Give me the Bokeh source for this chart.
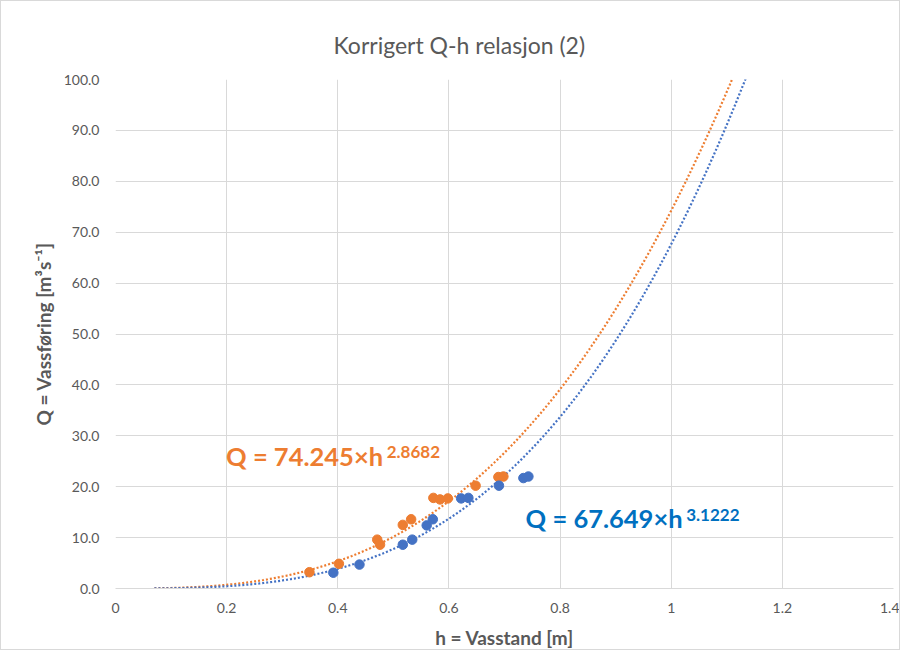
import numpy as np
from bokeh.plotting import figure
from bokeh.models import Range1d, ColumnDataSource, FixedTicker
from bokeh.core.properties import value
from bokeh.embed import file_html
from bokeh.resources import INLINE

# ---- data ----
h_orange = [0.349, 0.402, 0.471, 0.476, 0.517, 0.532, 0.572, 0.584, 0.598, 0.648, 0.689, 0.698]
q_orange = [3.2, 4.85, 9.6, 8.6, 12.5, 13.6, 17.8, 17.5, 17.7, 20.2, 21.9, 22.0]

h_blue = [0.392, 0.439, 0.517, 0.534, 0.560, 0.571, 0.622, 0.635, 0.690, 0.734, 0.743]
q_blue = [3.1, 4.7, 8.6, 9.6, 12.4, 13.6, 17.7, 17.8, 20.2, 21.7, 22.0]

# power-law trendlines shown in the chart: Q = a * h^b
coef_orange, exp_orange = 74.245, 2.8682
coef_blue, exp_blue = 67.649, 3.1222
trend_h_start, trend_h_end = 0.07, 1.2

x_ticks = [0, 0.2, 0.4, 0.6, 0.8, 1.0, 1.2, 1.4]
x_tick_labels = ["0", "0.2", "0.4", "0.6", "0.8", "1", "1.2", "1.4"]
y_ticks = [0, 10, 20, 30, 40, 50, 60, 70, 80, 90, 100]
y_tick_labels = ["0.0", "10.0", "20.0", "30.0", "40.0", "50.0", "60.0", "70.0", "80.0", "90.0", "100.0"]

title_text = "Korrigert Q-h relasjon (2)"
x_label = "h = Vasstand [m]"
y_label = "Q = Vassføring [m³s⁻¹]"

ORANGE = "#ED7D31"
BLUE = "#4472C4"
TXT_BLUE = "#0070C0"
GRID = "#D9D9D9"
LABEL = "#595959"
FONT = "Lato"

p = figure(width=900, height=650, output_backend="svg", toolbar_location=None,
           x_range=Range1d(0, 1.4), y_range=Range1d(0, 100),
           min_border_left=114, min_border_right=8, min_border_top=78, min_border_bottom=63,
           styles={"border": "1px solid #D9D9D9"})

p.title.text = title_text
p.title.align = "left"
p.title.offset = 218
p.title.text_font = FONT
p.title.text_font_size = "23px"
p.title.text_font_style = "normal"
p.title.text_color = LABEL
p.title.standoff = 41

p.outline_line_color = None
p.background_fill_color = "white"
p.border_fill_color = "white"

for g in (p.xgrid, p.ygrid):
    g.grid_line_color = GRID
    g.grid_line_width = 1
p.xgrid.ticker = FixedTicker(ticks=x_ticks)
p.ygrid.ticker = FixedTicker(ticks=y_ticks)

xa = p.xaxis[0]
xa.ticker = FixedTicker(ticks=x_ticks)
xa.major_label_overrides = {t: l for t, l in zip(x_ticks, x_tick_labels)}
xa.axis_line_color = GRID
xa.major_tick_line_color = None
xa.minor_tick_line_color = None
xa.major_label_standoff = 8
xa.major_label_text_font = FONT
xa.major_label_text_font_size = "14px"
xa.major_label_text_color = LABEL
xa.axis_label = x_label
xa.axis_label_text_font = FONT
xa.axis_label_text_font_size = "19px"
xa.axis_label_text_font_style = "bold"
xa.axis_label_text_color = LABEL
xa.axis_label_standoff = 10

ya = p.yaxis[0]
ya.ticker = FixedTicker(ticks=y_ticks)
ya.major_label_overrides = {t: l for t, l in zip(y_ticks, y_tick_labels)}
ya.axis_line_color = None
ya.major_tick_line_color = None
ya.minor_tick_line_color = None
ya.major_label_standoff = 10
ya.major_label_text_font = FONT
ya.major_label_text_font_size = "14px"
ya.major_label_text_color = LABEL
ya.axis_label = y_label
ya.axis_label_text_font = FONT
ya.axis_label_text_font_size = "19px"
ya.axis_label_text_font_style = "bold"
ya.axis_label_text_color = LABEL
ya.axis_label_standoff = 6

# trendlines
hh = np.linspace(trend_h_start, trend_h_end, 300)
p.line(hh, coef_orange * hh ** exp_orange, line_color=ORANGE, line_width=2.2, line_dash="2 2")
p.line(hh, coef_blue * hh ** exp_blue, line_color=BLUE, line_width=2.2, line_dash="2 2")

# data points
p.scatter(h_orange, q_orange, size=9.5, fill_color=ORANGE, line_color=ORANGE)
p.scatter(h_blue, q_blue, size=9.5, fill_color=BLUE, line_color=BLUE)

# equation labels
eq_src = ColumnDataSource(dict(
    x=[0.199, 0.738], y=[26.0, 13.9],
    t=["Q = %.3f×h" % coef_orange, "Q = %.3f×h" % coef_blue],
    c=[ORANGE, TXT_BLUE]))
p.text(x="x", y="y", text="t", text_color="c", source=eq_src,
       text_font=value(FONT), text_font_style="bold", text_font_size="25.5px",
       text_baseline="middle", text_align="left")
sup_src = ColumnDataSource(dict(
    x=[0.488, 1.027], y=[26.9, 14.5],
    t=["%.4f" % exp_orange, "%.4f" % exp_blue],
    c=[ORANGE, TXT_BLUE]))
p.text(x="x", y="y", text="t", text_color="c", source=sup_src,
       text_font=value(FONT), text_font_style="bold", text_font_size="17px",
       text_baseline="middle", text_align="left")

open("out.html", "w").write(file_html(p, INLINE))
